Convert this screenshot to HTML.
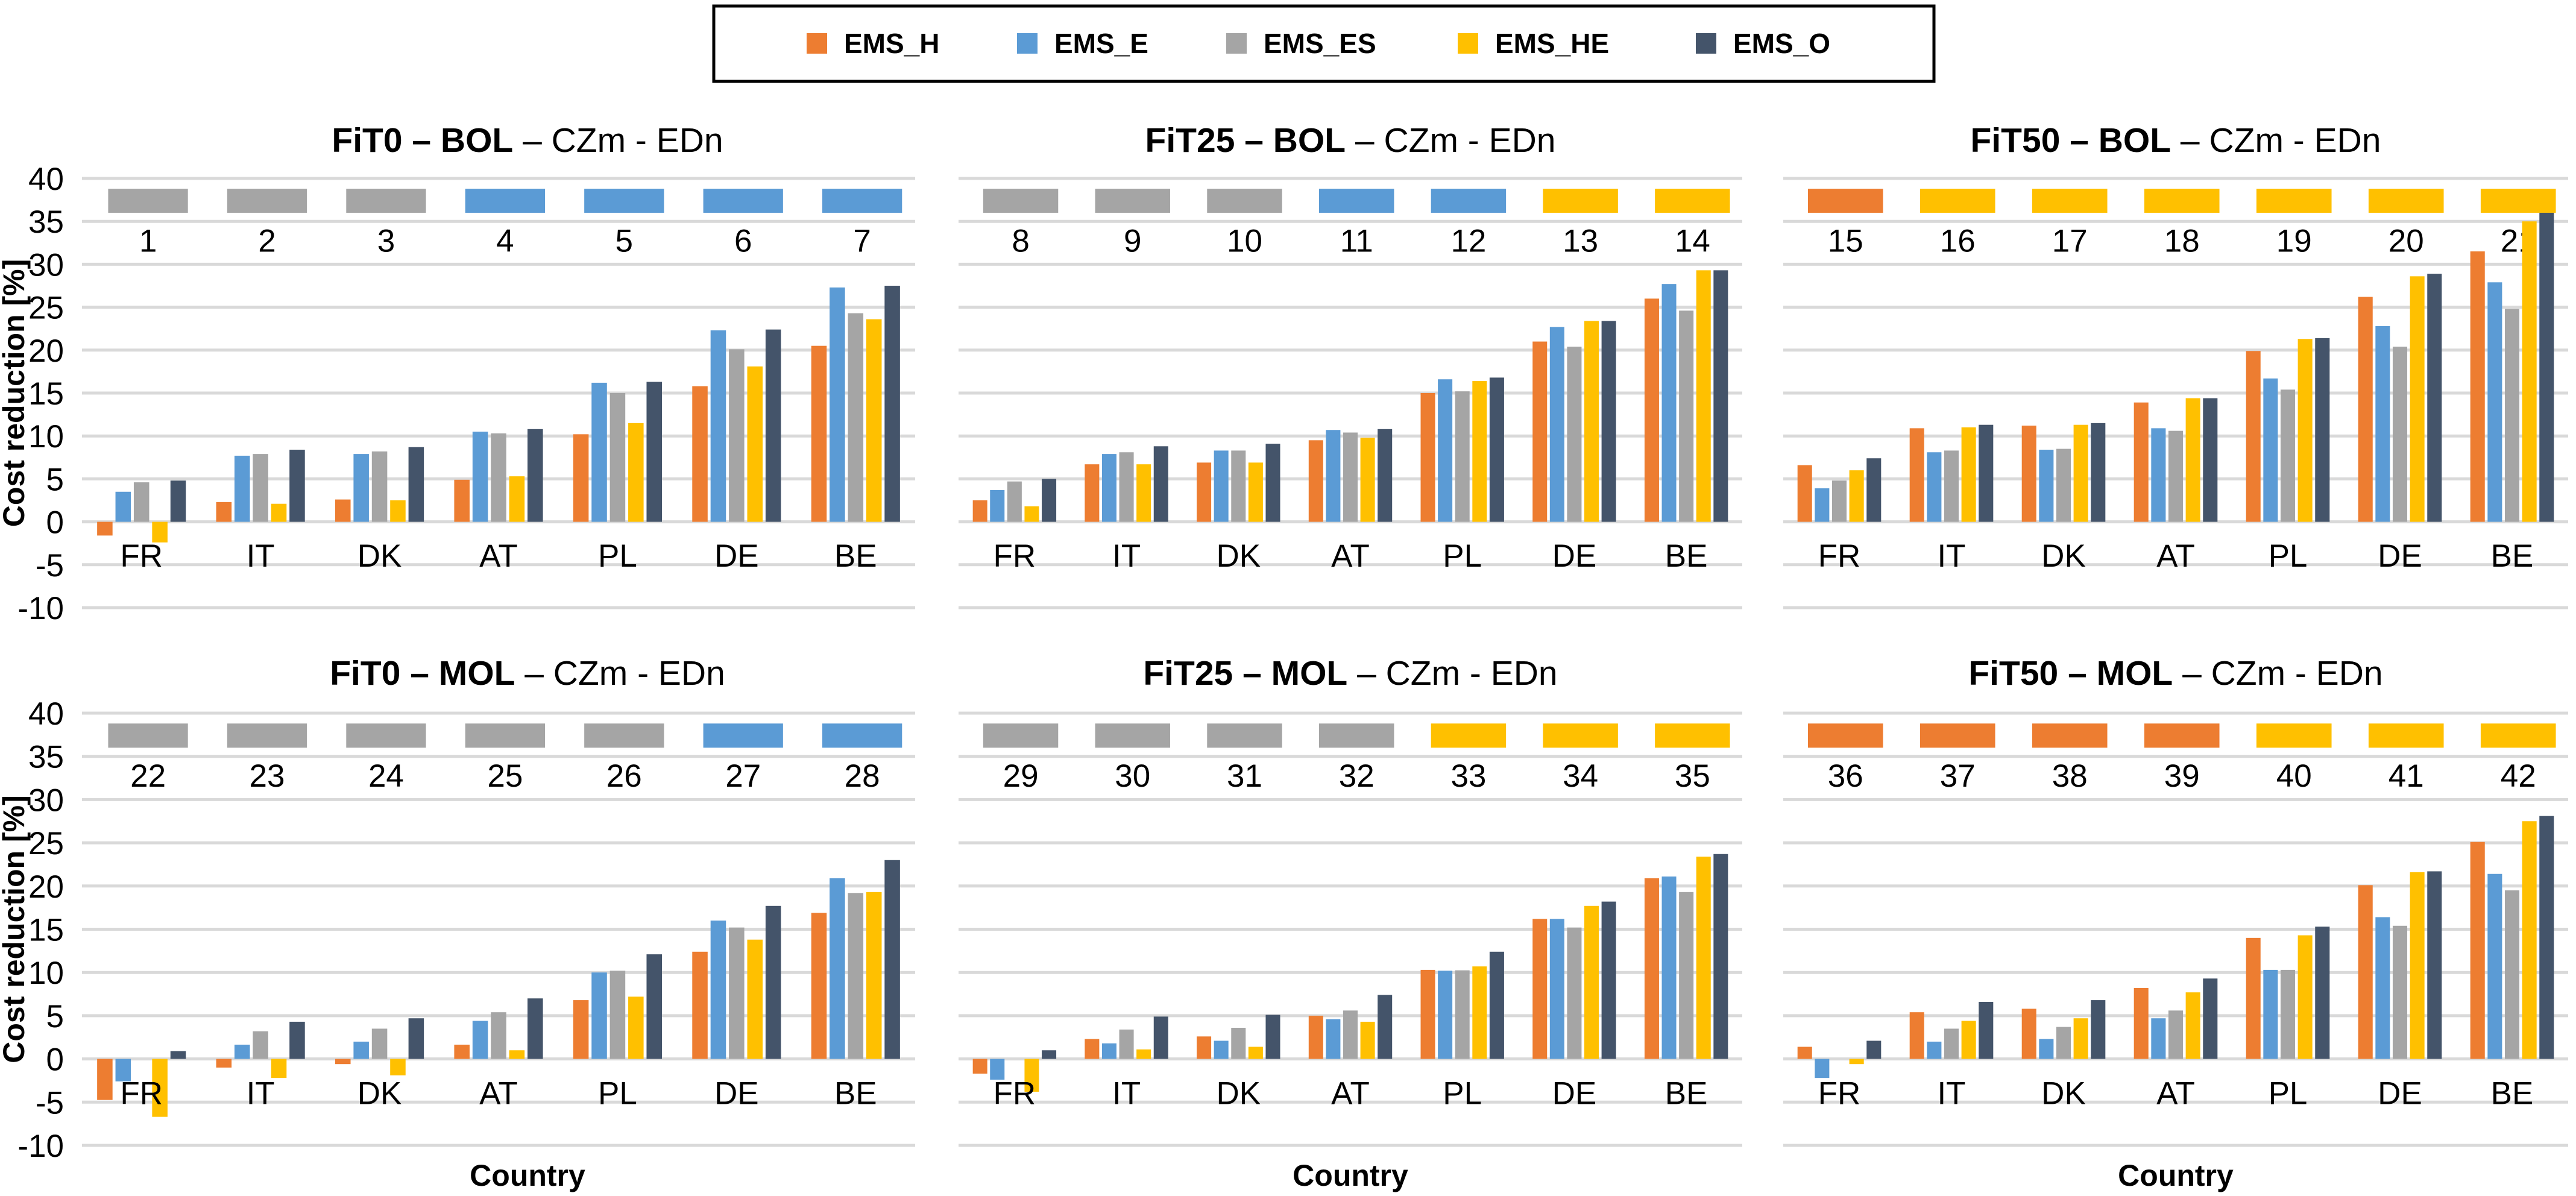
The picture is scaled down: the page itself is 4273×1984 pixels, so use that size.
<!DOCTYPE html>
<html><head><meta charset="utf-8">
<style>
html,body{margin:0;padding:0;background:#fff;}
svg{display:block;font-family:"Liberation Sans",Arial,sans-serif;}
</style></head>
<body>
<svg id="chart" width="4273" height="1984" viewBox="0 0 4273 1984" xmlns="http://www.w3.org/2000/svg">
  <g>
    <rect x="1184" y="10" width="2024" height="125" fill="#fff" stroke="#000" stroke-width="5"/>
    <g><rect x="1338" y="55" width="34" height="34" fill="#ED7D31"/><text x="1400" y="88" font-size="46" font-weight="bold">EMS_H</text></g>
    <g><rect x="1687" y="55" width="34" height="34" fill="#5B9BD5"/><text x="1749" y="88" font-size="46" font-weight="bold">EMS_E</text></g>
    <g><rect x="2034" y="55" width="34" height="34" fill="#A5A5A5"/><text x="2096" y="88" font-size="46" font-weight="bold">EMS_ES</text></g>
    <g><rect x="2418" y="55" width="34" height="34" fill="#FFC000"/><text x="2480" y="88" font-size="46" font-weight="bold">EMS_HE</text></g>
    <g><rect x="2813" y="55" width="34" height="34" fill="#44546A"/><text x="2875" y="88" font-size="46" font-weight="bold">EMS_O</text></g>
  </g>
</svg>
<script>
const categories = ["FR","IT","DK","AT","PL","DE","BE"];
const seriesNames = ["EMS_H","EMS_E","EMS_ES","EMS_HE","EMS_O"];
const yTicks = [40,35,30,25,20,15,10,5,0,-5,-10];

const p1_H  = [-1.6,2.3,2.6,4.9,10.2,15.8,20.5];
const p1_E  = [3.5,7.7,7.9,10.5,16.2,22.3,27.3];
const p1_ES = [4.6,7.9,8.2,10.3,15.0,20.1,24.3];
const p1_HE = [-2.4,2.1,2.5,5.3,11.5,18.1,23.6];
const p1_O  = [4.8,8.4,8.7,10.8,16.3,22.4,27.5];

const p2_H  = [2.5,6.7,6.9,9.5,15.0,21.0,26.0];
const p2_E  = [3.7,7.9,8.3,10.7,16.6,22.7,27.7];
const p2_ES = [4.7,8.1,8.3,10.4,15.2,20.4,24.6];
const p2_HE = [1.8,6.7,6.9,9.8,16.4,23.4,29.3];
const p2_O  = [5.0,8.8,9.1,10.8,16.8,23.4,29.3];

const p3_H  = [6.6,10.9,11.2,13.9,19.9,26.2,31.5];
const p3_E  = [3.9,8.1,8.4,10.9,16.7,22.8,27.9];
const p3_ES = [4.8,8.3,8.5,10.6,15.4,20.4,24.8];
const p3_HE = [6.0,11.0,11.3,14.4,21.3,28.6,35.0];
const p3_O  = [7.4,11.3,11.5,14.4,21.4,28.9,36.0];

const p4_H  = [-4.75,-1.0,-0.6,1.65,6.8,12.4,16.9];
const p4_E  = [-2.6,1.65,2.0,4.4,10.0,16.0,20.9];
const p4_ES = [0,3.2,3.5,5.4,10.2,15.2,19.2];
const p4_HE = [-6.7,-2.2,-1.9,1.0,7.2,13.8,19.3];
const p4_O  = [0.9,4.3,4.7,7.0,12.1,17.7,23.0];

const p5_H  = [-1.7,2.3,2.6,5.0,10.3,16.2,20.9];
const p5_E  = [-2.4,1.8,2.1,4.6,10.2,16.2,21.1];
const p5_ES = [0,3.4,3.6,5.6,10.25,15.2,19.3];
const p5_HE = [-3.8,1.1,1.4,4.3,10.7,17.7,23.4];
const p5_O  = [1.0,4.9,5.1,7.4,12.4,18.2,23.7];

const p6_H  = [1.4,5.4,5.8,8.2,14.0,20.1,25.1];
const p6_E  = [-2.2,2.0,2.3,4.7,10.3,16.4,21.4];
const p6_ES = [0,3.5,3.7,5.6,10.3,15.4,19.5];
const p6_HE = [-0.6,4.4,4.7,7.7,14.3,21.6,27.5];
const p6_O  = [2.1,6.6,6.8,9.3,15.3,21.7,28.1];

const scen1 = [1,2,3,4,5,6,7];
const scen2 = [8,9,10,11,12,13,14];
const scen3 = [15,16,17,18,19,20,21];
const scen4 = [22,23,24,25,26,27,28];
const scen5 = [29,30,31,32,33,34,35];
const scen6 = [36,37,38,39,40,41,42];
const scenClr1 = ["ES","ES","ES","E","E","E","E"];
const scenClr2 = ["ES","ES","ES","E","E","HE","HE"];
const scenClr3 = ["H","HE","HE","HE","HE","HE","HE"];
const scenClr4 = ["ES","ES","ES","ES","ES","E","E"];
const scenClr5 = ["ES","ES","ES","ES","HE","HE","HE"];
const scenClr6 = ["H","H","H","H","HE","HE","HE"];

const titlesBold = ["FiT0 – BOL","FiT25 – BOL","FiT50 – BOL","FiT0 – MOL","FiT25 – MOL","FiT50 – MOL"];

const colors = {H:"#ED7D31",E:"#5B9BD5",ES:"#A5A5A5",HE:"#FFC000",O:"#44546A"};
const sColors = [colors.H,colors.E,colors.ES,colors.HE,colors.O];
const NS = "http://www.w3.org/2000/svg";
const svg = document.getElementById("chart");

function mk(tag, attrs, parent){
  const e = document.createElementNS(NS, tag);
  for (const k in attrs) e.setAttribute(k, attrs[k]);
  parent.appendChild(e);
  return e;
}

const panels = [
  {x0:136,x1:1518,tx:875,yTop:296,yBot:1008,ty:252,series:[p1_H,p1_E,p1_ES,p1_HE,p1_O],sc:scen1,scc:scenClr1,ylab:true,xlab:false},
  {x0:1590,x1:2890,tx:2240,yTop:296,yBot:1008,ty:252,series:[p2_H,p2_E,p2_ES,p2_HE,p2_O],sc:scen2,scc:scenClr2,ylab:false,xlab:false},
  {x0:2958,x1:4260,tx:3609,yTop:296,yBot:1008,ty:252,series:[p3_H,p3_E,p3_ES,p3_HE,p3_O],sc:scen3,scc:scenClr3,ylab:false,xlab:false},
  {x0:136,x1:1518,tx:875,yTop:1183,yBot:1900,ty:1136,series:[p4_H,p4_E,p4_ES,p4_HE,p4_O],sc:scen4,scc:scenClr4,ylab:true,xlab:true},
  {x0:1590,x1:2890,tx:2240,yTop:1183,yBot:1900,ty:1136,series:[p5_H,p5_E,p5_ES,p5_HE,p5_O],sc:scen5,scc:scenClr5,ylab:false,xlab:true},
  {x0:2958,x1:4260,tx:3609,yTop:1183,yBot:1900,ty:1136,series:[p6_H,p6_E,p6_ES,p6_HE,p6_O],sc:scen6,scc:scenClr6,ylab:false,xlab:true}
];

panels.forEach((p, pi) => {
  const g = mk("g", {}, svg);
  
  
  const yScale = v => p.yBot + (v - (-10)) * (p.yTop - p.yBot) / 50;
  const cw = (p.x1 - p.x0) / categories.length;
  const xCenter = i => p.x0 + cw * (i + 0.5);

  const t = mk("text", {x:p.tx, y:p.ty, "text-anchor":"middle", "font-size":57}, g);
  
  
  const tb = mk("tspan", {"font-weight":"bold"}, t); tb.textContent = titlesBold[pi];
  const tn = mk("tspan", {}, t); tn.textContent = " – CZm - EDn";

  yTicks.forEach(v => {
    const l = mk("line", {x1:p.x0, x2:p.x1, y1:yScale(v), y2:yScale(v), stroke:"#d9d9d9", "stroke-width":5}, g);
    
    
    if (p.ylab) {
      const tl = mk("text", {x:106, y:yScale(v)+19, "text-anchor":"end", "font-size":53}, g);
      
      
      tl.textContent = v;
    }
  });

  const boxW = cw * 0.67;
  p.sc.forEach((num, i) => {
    const cx = xCenter(i) + cw*0.055;
    const r = mk("rect", {x:cx-boxW/2, y:yScale(38.8), width:boxW, height:yScale(36)-yScale(38.8), fill:colors[p.scc[i]]}, g);
    
    
    const nt = mk("text", {x:cx, y:yScale(32.8)+19, "text-anchor":"middle", "font-size":53}, g);
    
    
    nt.textContent = num;
  });

  const step = cw * 0.154, bw = step * 0.84;
  p.series.forEach((arr, si) => {
    arr.forEach((v, i) => {
      const bx = xCenter(i) - 2.5*step + si*step + (step-bw)/2;
      const y0 = yScale(0), yv = yScale(v);
      const b = mk("rect", {x:bx, y:Math.min(y0,yv), width:bw, height:Math.abs(yv-y0), fill:sColors[si]}, g);
      
      
    });
  });

  categories.forEach((c, i) => {
    const ct = mk("text", {x:xCenter(i), y:yScale(-3.9)+19, "text-anchor":"middle", "font-size":53}, g);
    
    
    ct.textContent = c;
  });

  if (p.ylab) {
    const cy = (p.yTop + p.yBot)/2;
    const at = mk("text", {x:0, y:0, transform:"translate(40," + cy + ") rotate(-90)", "text-anchor":"middle", "font-size":50, "font-weight":"bold"}, g);
    
    
    at.textContent = "Cost reduction [%]";
  }
  if (p.xlab) {
    const xt = mk("text", {x:p.tx, y:1967, "text-anchor":"middle", "font-size":50, "font-weight":"bold"}, g);
    
    
    xt.textContent = "Country";
  }
});
</script>
</body></html>
